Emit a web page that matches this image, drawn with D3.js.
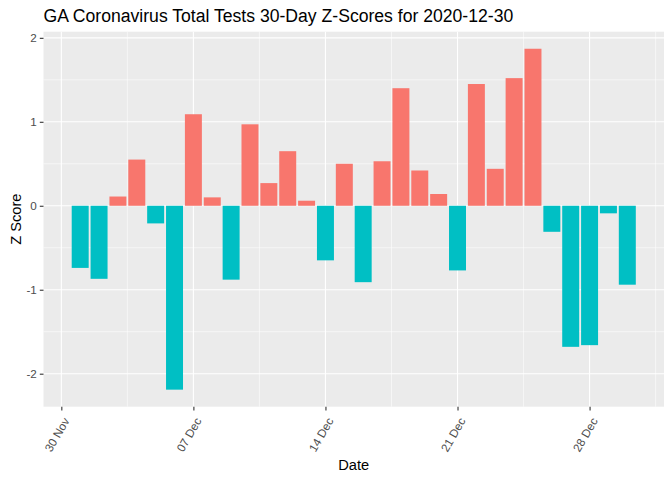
<!DOCTYPE html>
<html><head><meta charset="utf-8">
<script src="https://cdn.jsdelivr.net/npm/d3@7"></script>
<style>body{margin:0;background:#fff} text{font-family:"Liberation Sans",Arial,sans-serif}</style>
</head><body><svg id="c" width="672" height="480"></svg>
<script>
const title = "GA Coronavirus Total Tests 30-Day Z-Scores for 2020-12-30";
const dates = ["2020-12-01","2020-12-02","2020-12-03","2020-12-04","2020-12-05","2020-12-06","2020-12-07","2020-12-08","2020-12-09","2020-12-10",
  "2020-12-11","2020-12-12","2020-12-13","2020-12-14","2020-12-15","2020-12-16","2020-12-17","2020-12-18","2020-12-19","2020-12-20",
  "2020-12-21","2020-12-22","2020-12-23","2020-12-24","2020-12-25","2020-12-26","2020-12-27","2020-12-28","2020-12-29","2020-12-30"];
const zScores = [-0.74,-0.87,0.11,0.55,-0.21,-2.19,1.09,0.10,-0.88,0.97,
  0.27,0.65,0.06,-0.65,0.50,-0.91,0.53,1.40,0.42,0.14,
  -0.77,1.45,0.44,1.52,1.87,-0.31,-1.68,-1.66,-0.09,-0.94];
const yTicks = [-2,-1,0,1,2];
const yTickLabels = ["-2","-1","0","1","2"];
const yMinor = [-1.5,-0.5,0.5,1.5];
const xTickDates = ["2020-11-30","2020-12-07","2020-12-14","2020-12-21","2020-12-28"];
const xTickLabels = ["30 Nov","07 Dec","14 Dec","21 Dec","28 Dec"];
const xMinorDates = ["2020-12-03T12:00","2020-12-10T12:00","2020-12-17T12:00","2020-12-24T12:00","2020-12-31T12:00"];

const parse = s => new Date(s.length > 10 ? s + ":00Z" : s + "T00:00:00Z");
const data = dates.map((d,i) => ({date: parse(d), z: zScores[i]}));
const DAY = 864e5;

const svg = d3.select("#c");
const P = {l: 43.5, r: 664, t: 31.7, b: 406.7};

const dMin = d3.min(data, d => +d.date) - 0.45*DAY, dMax = d3.max(data, d => +d.date) + 0.45*DAY;
const dPad = (dMax - dMin) * 0.05;
const x = d3.scaleUtc().domain([new Date(dMin - dPad), new Date(dMax + dPad)]).range([P.l, P.r]);
const yLo = Math.min(0, d3.min(zScores)), yHi = Math.max(0, d3.max(zScores));
const yPad = (yHi - yLo) * 0.05;
const y = d3.scaleLinear().domain([yLo - yPad, yHi + yPad]).range([P.b, P.t]);

svg.append("rect").attr("x", P.l).attr("y", P.t).attr("width", P.r - P.l).attr("height", P.b - P.t).attr("fill", "#EBEBEB");

const g = svg.append("g");
g.selectAll(".ym").data(yMinor).join("line").attr("x1", P.l).attr("x2", P.r).attr("y1", d => y(d)).attr("y2", d => y(d)).attr("stroke", "#fff").attr("stroke-width", 0.55);
g.selectAll(".xm").data(xMinorDates.map(parse)).join("line").attr("y1", P.t).attr("y2", P.b).attr("x1", d => x(d)).attr("x2", d => x(d)).attr("stroke", "#fff").attr("stroke-width", 0.55);
g.selectAll(".yM").data(yTicks).join("line").attr("x1", P.l).attr("x2", P.r).attr("y1", d => y(d)).attr("y2", d => y(d)).attr("stroke", "#fff").attr("stroke-width", 1.1);
g.selectAll(".xM").data(xTickDates.map(parse)).join("line").attr("y1", P.t).attr("y2", P.b).attr("x1", d => x(d)).attr("x2", d => x(d)).attr("stroke", "#fff").attr("stroke-width", 1.1);

const bw = x(new Date(0.9*DAY)) - x(new Date(0));
svg.selectAll(".bar").data(data).join("rect")
  .attr("x", d => x(d.date) - bw/2).attr("width", bw)
  .attr("y", d => y(Math.max(0, d.z))).attr("height", d => Math.abs(y(d.z) - y(0)))
  .attr("fill", d => d.z >= 0 ? "#F8766D" : "#00BFC4");

// y axis
const yAx = svg.append("g").attr("transform", `translate(${P.l},0)`)
  .call(d3.axisLeft(y).tickValues(yTicks).tickSize(3.7).tickPadding(3).tickFormat((d,i) => yTickLabels[i]));
yAx.select(".domain").remove();
yAx.selectAll("line").attr("stroke", "#333333").attr("stroke-width", 1.1);
yAx.selectAll("text").attr("fill", "#4D4D4D").style("font-size", "11.7px").style("font-family", '"Liberation Sans",Arial,sans-serif');

// x axis
const xAx = svg.append("g").attr("transform", `translate(0,${P.b})`)
  .call(d3.axisBottom(x).tickValues(xTickDates.map(parse)).tickSize(3.7).tickFormat((d,i) => xTickLabels[i]));
xAx.select(".domain").remove();
xAx.selectAll("line").attr("stroke", "#333333").attr("stroke-width", 1.1);
xAx.selectAll("text").attr("fill", "#4D4D4D").style("font-size", "11.7px").style("font-family", '"Liberation Sans",Arial,sans-serif')
  .attr("text-anchor", "end").attr("dy", null).attr("y", null)
  .attr("transform", "translate(8,14) rotate(-60)");

svg.append("text").attr("x", (P.l + P.r)/2).attr("y", 470).attr("text-anchor", "middle").style("font-size", "14.67px").attr("fill", "#000").text("Date");
svg.append("text").attr("transform", `translate(21,${(P.t + P.b)/2}) rotate(-90)`).attr("text-anchor", "middle").style("font-size", "14.67px").attr("fill", "#000").text("Z Score");
svg.append("text").attr("x", P.l).attr("y", 22).style("font-size", "17.6px").attr("fill", "#000").text(title);
</script></body></html>
